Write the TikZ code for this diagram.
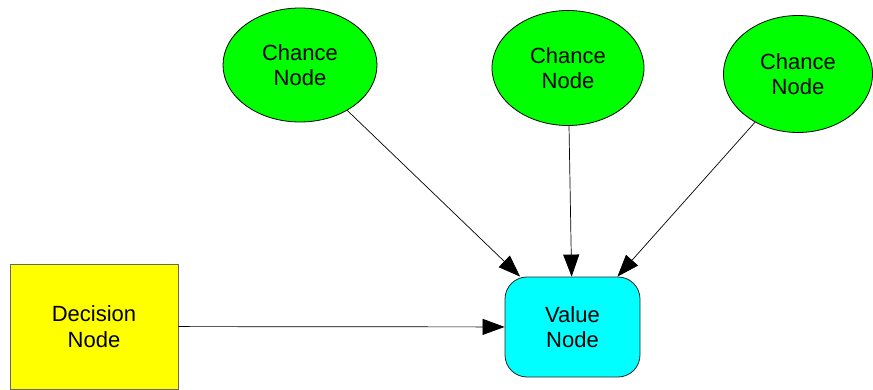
\documentclass[tikz,border=0pt]{standalone}
\usepackage{fontspec}
\setmainfont{Liberation Sans}
\usetikzlibrary{arrows.meta,shapes.geometric}

\definecolor{chancegreen}{RGB}{0,255,0}
\definecolor{decisionyellow}{RGB}{255,255,0}
\definecolor{valuecyan}{RGB}{0,255,255}

\tikzset{
  label font/.style={font=\fontsize{22}{25.5}\selectfont, align=center},
  chance/.style={ellipse, draw=black, line width=0.8pt, fill=chancegreen, inner sep=0pt, label font},
  decision/.style={rectangle, draw=black!60, line width=0.9pt, fill=decisionyellow, inner sep=0pt, label font},
  valuebox/.style={rectangle, rounded corners=22pt, draw=black!85, line width=0.8pt, fill=valuecyan, inner sep=0pt, label font},
  link/.style={draw=black, line width=0.7pt, -{Triangle[length=22pt,width=16pt]}},
}

\begin{document}
\begin{tikzpicture}[x=1pt, y=-1pt]
  \useasboundingbox (0,0) rectangle (873,390);

  % chance nodes
  \node[chance, minimum width=154pt, minimum height=114pt] (c1) at (300,65) {Chance\\Node};
  \node[chance, minimum width=152pt, minimum height=115pt] (c2) at (568,68) {Chance\\Node};
  \node[chance, minimum width=149pt, minimum height=117pt] (c3) at (798,74) {Chance\\Node};

  % decision and value nodes
  \node[decision, minimum width=168pt, minimum height=125pt] (d) at (94,326.5) {Decision\\Node};
  \node[valuebox, minimum width=135pt, minimum height=100pt] (v) at (572.5,327) {Value\\Node};

  % influence arcs
  \draw[link] (c1) -- (v);
  \draw[link] (c2) -- (v);
  \draw[link] (c3) -- (v);
  \draw[link] (d) -- (v);
\end{tikzpicture}
\end{document}
